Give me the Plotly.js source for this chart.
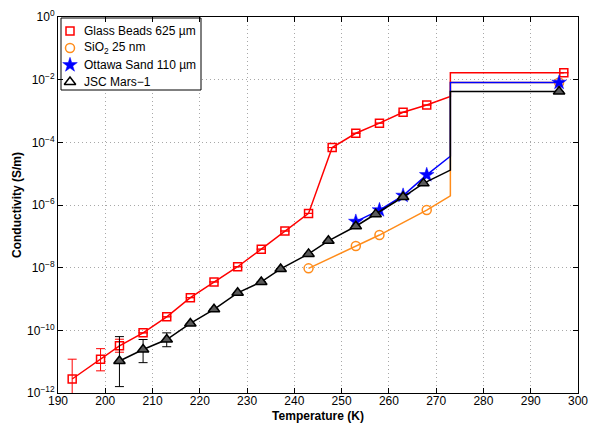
<!DOCTYPE html>
<html>
<head>
<meta charset="utf-8">
<script src="https://cdn.plot.ly/plotly-3.0.1.min.js"></script>
<style>html,body{margin:0;padding:0;background:#fff;}#chart{width:590px;height:423px;}</style>
</head>
<body>
<div id="chart"></div>
<script>
// ---- data ----
var meltT = 273;

var beadsT   = [193, 199, 203, 208, 213, 218, 223, 228, 233, 238, 243, 248, 253, 258, 263, 268, 297];
var beadsVal = [2.8e-12, 1.2e-11, 3.2e-11, 8.3e-11, 2.7e-10, 1.1e-9, 3.5e-9, 1.07e-8, 3.9e-8, 1.48e-7, 5.4e-7, 6.8e-5, 1.95e-4, 4.1e-4, 9.1e-4, 1.55e-3, 1.66e-2];
var beadsAtMelt = 2.9e-3;
var beadsErrT  = [193, 199, 203];
var beadsErrHi = [1.2e-11, 2.6e-11, 5.2e-11];
var beadsErrLo = [1.0e-13, 5.1e-12, 2.0e-11];

var sio2T   = [243, 253, 258, 268, 296];
var sio2Val = [9.5e-9, 4.9e-8, 1.1e-7, 6.9e-7, 8.1e-3];
var sio2AtMelt = 1.95e-6;

var ottawaT   = [253, 258, 263, 268, 296];
var ottawaVal = [2.95e-7, 6.9e-7, 2.0e-6, 9.1e-6, 8.1e-3];
var ottawaAtMelt = 3.6e-5;

var jscT   = [203, 208, 213, 218, 223, 228, 233, 237.1, 243, 247.2, 253, 257.2, 263, 267.3, 296];
var jscVal = [1.05e-11, 2.45e-11, 5.1e-11, 1.66e-10, 4.7e-10, 1.58e-9, 3.5e-9, 9.1e-9, 2.75e-8, 7.2e-8, 2.1e-7, 5.1e-7, 1.8e-6, 4.9e-6, 4.2e-3];
var jscAtMelt = 1.3e-5;
var jscErrT  = [203, 208, 213];
var jscErrHi = [6.3e-11, 5.1e-11, 8.3e-11];
var jscErrLo = [1.6e-12, 9.3e-12, 3.0e-11];

var seriesNames = ['Glass Beads 625 \u00b5m', 'SiO<sub>2</sub> 25 nm', 'Ottawa Sand 110 \u00b5m', 'JSC Mars\u22121'];
var xTicks = [190, 200, 210, 220, 230, 240, 250, 260, 270, 280, 290, 300];
var yTickExp = [-12, -10, -8, -6, -4, -2, 0];

// ---- build ----
function pathT(T){ return T.slice(0, -1).concat([meltT, meltT, T[T.length-1]]); }
function pathV(V, atMelt){ var last = V[V.length-1]; return V.slice(0, -1).concat([atMelt, last, last]); }

function lineTrace(T, V, atMelt, color){
  return {x: pathT(T), y: pathV(V, atMelt), mode: 'lines', type: 'scatter',
          line: {color: color, width: 1.5}, showlegend: false, hoverinfo: 'skip'};
}
function errArr(T, V, errT, errB, sign){
  return T.map(function(t, i){
    var k = errT.indexOf(t);
    if (k < 0) return 0;
    return sign > 0 ? errB[k] - V[i] : V[i] - errB[k];
  });
}

var red = '#ff0000', orange = '#ff8c1a', blue = '#0000ff', black = '#000000';
var styles = [
  {symbol: 'square-open', size: 8, color: red, line: {width: 1.5, color: red}},
  {symbol: 'circle-open', size: 9, color: orange, line: {width: 1.5, color: orange}},
  {symbol: 'star', size: 11, color: blue, line: {width: 0.5, color: blue}},
  {symbol: 'triangle-up', size: 10, color: '#5a5a5a', line: {width: 1.5, color: black}}
];

var traces = [
  lineTrace(beadsT, beadsVal, beadsAtMelt, red),
  {x: beadsT, y: beadsVal, mode: 'markers', type: 'scatter', showlegend: false, marker: styles[0],
   error_y: {type: 'data', symmetric: false,
             array: errArr(beadsT, beadsVal, beadsErrT, beadsErrHi, 1),
             arrayminus: errArr(beadsT, beadsVal, beadsErrT, beadsErrLo, -1),
             color: red, thickness: 1, width: 4.5}},
  lineTrace(sio2T, sio2Val, sio2AtMelt, orange),
  {x: sio2T, y: sio2Val, mode: 'markers', type: 'scatter', showlegend: false, marker: styles[1]},
  lineTrace(ottawaT, ottawaVal, ottawaAtMelt, blue),
  {x: ottawaT, y: ottawaVal, mode: 'markers', type: 'scatter', showlegend: false, marker: styles[2]},
  lineTrace(jscT, jscVal, jscAtMelt, black),
  {x: jscT, y: jscVal, mode: 'markers', type: 'scatter', showlegend: false, marker: styles[3],
   error_y: {type: 'data', symmetric: false,
             array: errArr(jscT, jscVal, jscErrT, jscErrHi, 1),
             arrayminus: errArr(jscT, jscVal, jscErrT, jscErrLo, -1),
             color: black, thickness: 1, width: 4.5}}
];

// ---- legend box (MATLAB style), drawn on a pixel overlay axis ----
var legKeyX = 12, legTextX = 24, legRow0 = 14, legRowStep = 17;
var legendMarkerStyles = styles.map(function(s, i){
  var m = JSON.parse(JSON.stringify(s));
  if (i === 3) m.color = 'rgba(0,0,0,0)';
  return m;
});
traces.push({x: [3, 143, 143, 3, 3], y: [1, 1, 73, 73, 1], xaxis: 'x2', yaxis: 'y2',
             mode: 'lines', type: 'scatter', fill: 'toself', fillcolor: '#fff',
             line: {color: '#000', width: 1}, showlegend: false, hoverinfo: 'skip'});
seriesNames.forEach(function(n, i){
  traces.push({x: [legKeyX], y: [legRow0 + i*legRowStep], xaxis: 'x2', yaxis: 'y2',
               mode: 'markers', type: 'scatter', showlegend: false, hoverinfo: 'skip',
               marker: legendMarkerStyles[i]});
});
var font = 'Liberation Sans, Arial, Helvetica, sans-serif';
var annotations = seriesNames.map(function(n, i){
  return {xref: 'x2', yref: 'y2', x: legTextX, y: legRow0 + i*legRowStep, text: n,
          showarrow: false, xanchor: 'left', yanchor: 'middle',
          font: {family: font, size: 12, color: '#000'}};
});

var layout = {
  width: 590, height: 423,
  margin: {l: 58, r: 12, t: 17, b: 30, pad: 0},
  paper_bgcolor: '#fff', plot_bgcolor: '#fff',
  font: {family: font, size: 12, color: '#000'},
  showlegend: false,
  xaxis: {range: [190, 300], tickvals: xTicks, ticktext: xTicks.map(String),
          ticks: 'inside', ticklen: 5, tickcolor: '#000', showline: true, linecolor: '#000',
          linewidth: 1, mirror: 'ticks', showgrid: true, gridcolor: '#a8a8a8', griddash: '1px,3px',
          gridwidth: 1, zeroline: false, tickfont: {size: 12}, ticklabelstandoff: -3,
          title: {text: '<b>Temperature (K)</b>', font: {size: 12}, standoff: 9}},
  yaxis: {type: 'log', range: [-12, 0],
          tickvals: yTickExp.map(function(e){ return Math.pow(10, e); }),
          ticktext: yTickExp.map(function(e){ return '10<sup>' + (e < 0 ? '\u2212' + (-e) : e) + '</sup>'; }),
          ticks: 'inside', ticklen: 5, tickcolor: '#000', showline: true, linecolor: '#000',
          linewidth: 1, mirror: 'ticks', showgrid: true, gridcolor: '#a8a8a8', griddash: '1px,3px',
          gridwidth: 1, zeroline: false, tickfont: {size: 12},
          title: {text: '<b>Conductivity (S/m)</b>', font: {size: 12}, standoff: 2}},
  xaxis2: {overlaying: 'x', range: [0, 520], visible: false, fixedrange: true},
  yaxis2: {overlaying: 'y', range: [376, 0], visible: false, fixedrange: true},
  annotations: annotations
};

Plotly.newPlot('chart', traces, layout, {displayModeBar: false, staticPlot: true});
</script>
</body>
</html>
